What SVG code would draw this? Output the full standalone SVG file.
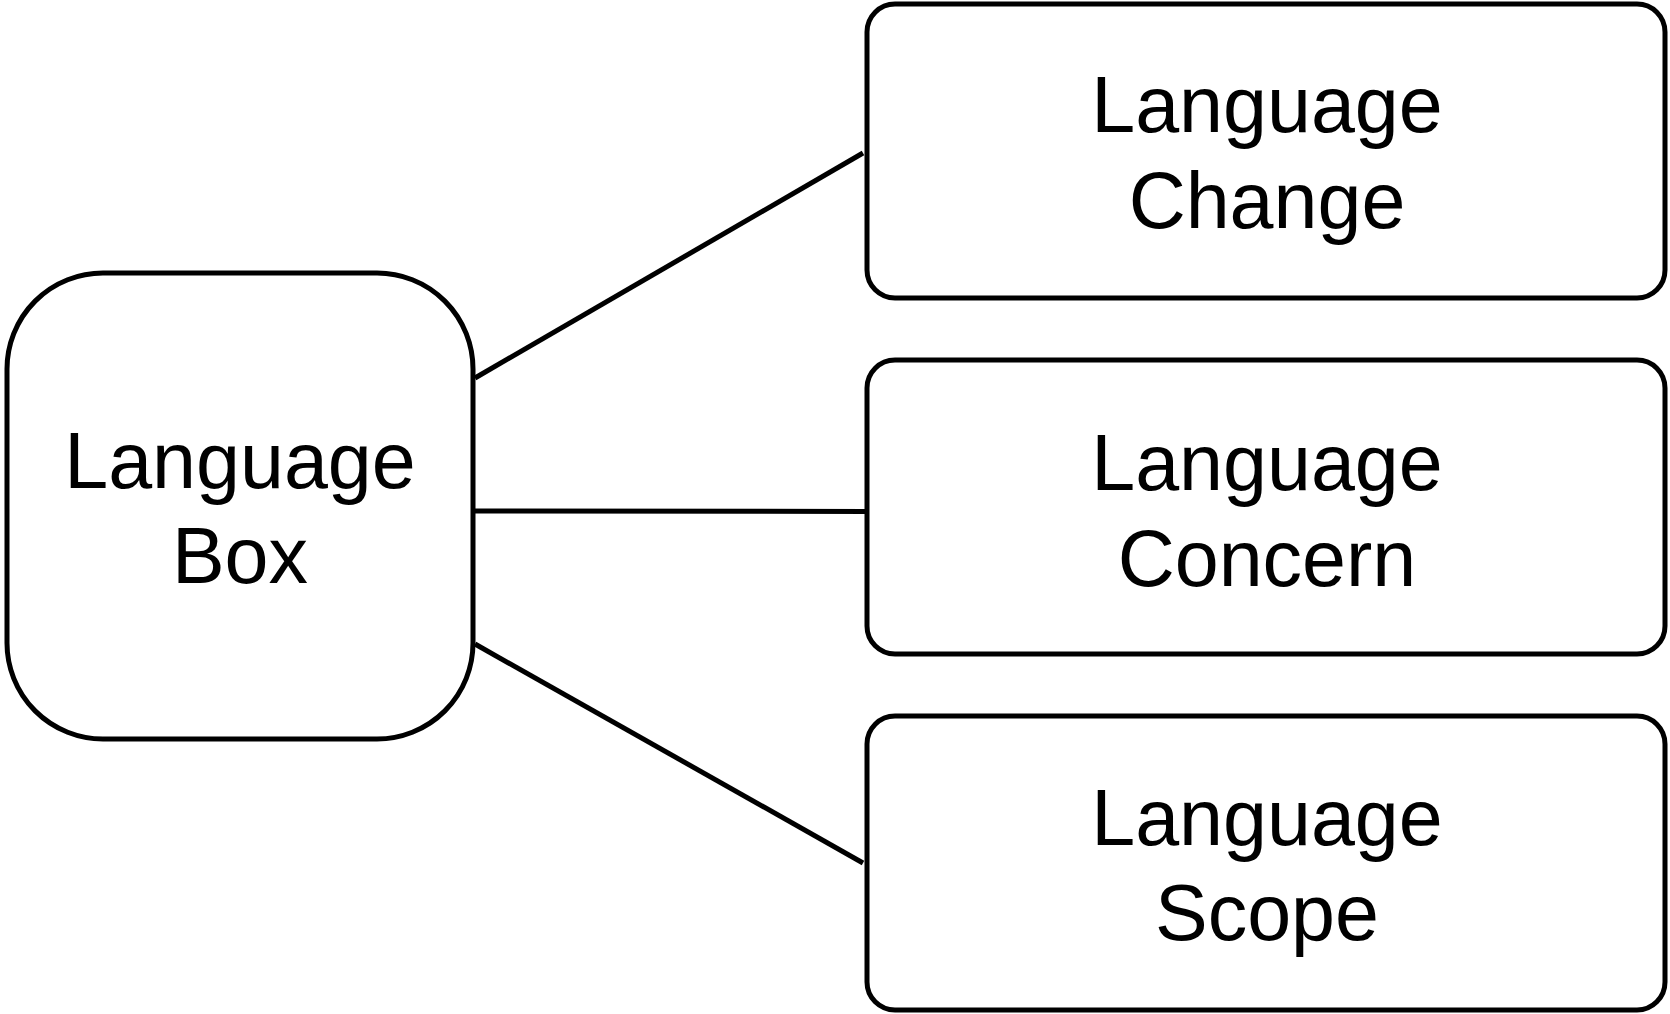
<svg xmlns="http://www.w3.org/2000/svg" width="1670" height="1014" viewBox="0 0 1670 1014">
  <style>
    .box { fill: #ffffff; stroke: #000000; stroke-width: 5; }
    .edge { fill: none; stroke: #000000; stroke-width: 5; }
    .label { font-family: "Liberation Sans", Arial, Helvetica, sans-serif; font-size: 79px; fill: #000000; text-anchor: middle; }
  </style>
  <rect width="1670" height="1014" fill="#ffffff"/>

  <!-- connectors from the central box to each topic -->
  <g id="connectors">
    <line class="edge" x1="475" y1="378" x2="863" y2="153"/>
    <line class="edge" x1="475" y1="511" x2="866" y2="511.5"/>
    <line class="edge" x1="475" y1="644" x2="863" y2="863"/>
  </g>

  <g id="language-box">
    <rect class="box" x="7" y="273" width="466" height="466" rx="96" ry="96"/>
    <text class="label" x="240" y="488">Language</text>
    <text class="label" x="240" y="583">Box</text>
  </g>

  <g id="language-change">
    <rect class="box" x="867" y="4" width="798" height="294" rx="28" ry="28"/>
    <text class="label" x="1267" y="132">Language</text>
    <text class="label" x="1267" y="228">Change</text>
  </g>

  <g id="language-concern">
    <rect class="box" x="867" y="360" width="798" height="294" rx="28" ry="28"/>
    <text class="label" x="1267" y="490">Language</text>
    <text class="label" x="1267" y="586">Concern</text>
  </g>

  <g id="language-scope">
    <rect class="box" x="867" y="716" width="798" height="294" rx="28" ry="28"/>
    <text class="label" x="1267" y="845">Language</text>
    <text class="label" x="1267" y="940">Scope</text>
  </g>
</svg>
